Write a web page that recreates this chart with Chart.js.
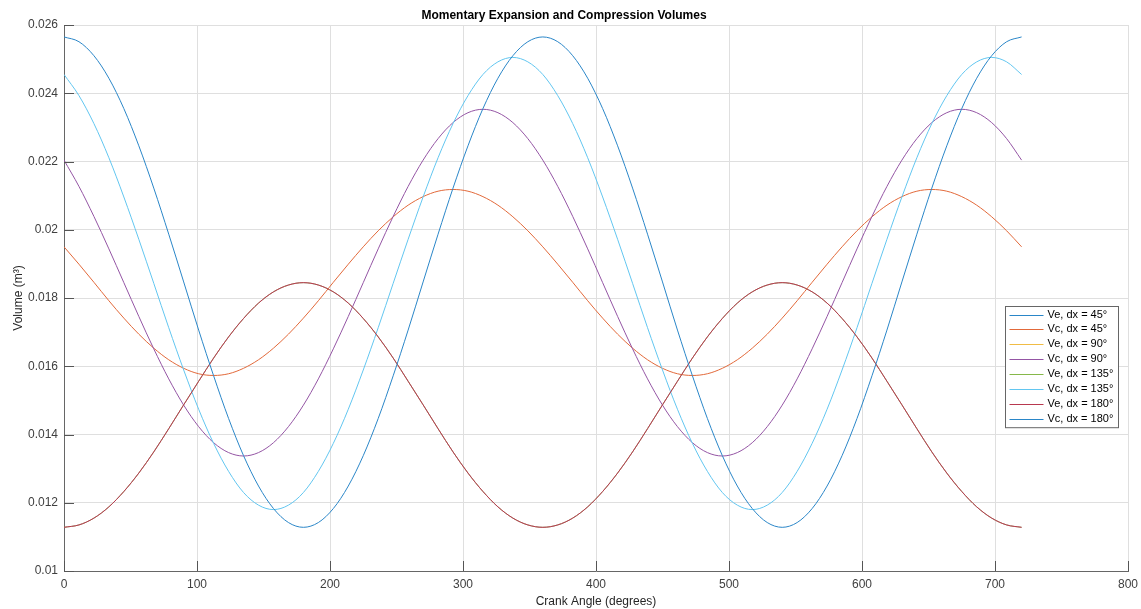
<!DOCTYPE html>
<html>
<head>
<meta charset="utf-8">
<title>Momentary Expansion and Compression Volumes</title>
<script src="https://cdn.jsdelivr.net/npm/chart.js@4"></script>
<style>
  html, body { margin: 0; padding: 0; background: #fff; }
  #wrap { width: 1141px; height: 609px; }
</style>
</head>
<body>
<div id="wrap"><canvas id="chart" width="1141" height="609"></canvas></div>
<script>
// Crank angle samples (degrees)
const crankAngles = [
  0, 11.25, 22.5, 33.75, 45, 56.25, 67.5, 78.75, 90, 101.25, 112.5, 123.75, 135, 146.25, 157.5, 168.75,
  180, 191.25, 202.5, 213.75, 225, 236.25, 247.5, 258.75, 270, 281.25, 292.5, 303.75, 315, 326.25, 337.5, 348.75,
  360, 371.25, 382.5, 393.75, 405, 416.25, 427.5, 438.75, 450, 461.25, 472.5, 483.75, 495, 506.25, 517.5, 528.75,
  540, 551.25, 562.5, 573.75, 585, 596.25, 607.5, 618.75, 630, 641.25, 652.5, 663.75, 675, 686.25, 697.5, 708.75,
  720
];

// Expansion volume, same curve for every dx (m^3)
const veVolume = [
  0.01128, 0.01135, 0.01155, 0.01188, 0.01233, 0.01287, 0.01349, 0.01417, 0.01487, 0.01556, 0.01624, 0.01686, 0.01740, 0.01785, 0.01818, 0.01838,
  0.01845, 0.01838, 0.01818, 0.01785, 0.01740, 0.01686, 0.01624, 0.01556, 0.01487, 0.01417, 0.01349, 0.01287, 0.01233, 0.01188, 0.01155, 0.01135,
  0.01128, 0.01135, 0.01155, 0.01188, 0.01233, 0.01287, 0.01349, 0.01417, 0.01487, 0.01556, 0.01624, 0.01686, 0.01740, 0.01785, 0.01818, 0.01838,
  0.01845, 0.01838, 0.01818, 0.01785, 0.01740, 0.01686, 0.01624, 0.01556, 0.01487, 0.01417, 0.01349, 0.01287, 0.01233, 0.01188, 0.01155, 0.01135,
  0.01128
];

// Compression volumes for each phase angle dx (m^3)
const vcDx45 = [
  0.01950, 0.01899, 0.01846, 0.01792, 0.01741, 0.01694, 0.01653, 0.01619, 0.01594, 0.01578, 0.01573, 0.01578, 0.01594, 0.01619, 0.01653, 0.01694,
  0.01741, 0.01792, 0.01846, 0.01899, 0.01950, 0.01997, 0.02038, 0.02072, 0.02097, 0.02113, 0.02118, 0.02113, 0.02097, 0.02072, 0.02038, 0.01997,
  0.01950, 0.01899, 0.01846, 0.01792, 0.01741, 0.01694, 0.01653, 0.01619, 0.01594, 0.01578, 0.01573, 0.01578, 0.01594, 0.01619, 0.01653, 0.01694,
  0.01741, 0.01792, 0.01846, 0.01899, 0.01950, 0.01997, 0.02038, 0.02072, 0.02097, 0.02113, 0.02118, 0.02113, 0.02097, 0.02072, 0.02038, 0.01997,
  0.01950
];
const vcDx90 = [
  0.02204, 0.02127, 0.02039, 0.01944, 0.01845, 0.01746, 0.01651, 0.01563, 0.01486, 0.01423, 0.01376, 0.01347, 0.01337, 0.01347, 0.01376, 0.01423,
  0.01486, 0.01563, 0.01651, 0.01746, 0.01845, 0.01944, 0.02039, 0.02127, 0.02204, 0.02267, 0.02314, 0.02343, 0.02353, 0.02343, 0.02314, 0.02267,
  0.02204, 0.02127, 0.02039, 0.01944, 0.01845, 0.01746, 0.01651, 0.01563, 0.01486, 0.01423, 0.01376, 0.01347, 0.01337, 0.01347, 0.01376, 0.01423,
  0.01486, 0.01563, 0.01651, 0.01746, 0.01845, 0.01944, 0.02039, 0.02127, 0.02204, 0.02267, 0.02314, 0.02343, 0.02353, 0.02343, 0.02314, 0.02267,
  0.02204
];
const vcDx135 = [
  0.02455, 0.02393, 0.02311, 0.02211, 0.02096, 0.01972, 0.01843, 0.01713, 0.01589, 0.01474, 0.01374, 0.01292, 0.01230, 0.01193, 0.01180, 0.01193,
  0.01230, 0.01292, 0.01374, 0.01474, 0.01589, 0.01713, 0.01843, 0.01972, 0.02096, 0.02211, 0.02311, 0.02393, 0.02455, 0.02492, 0.02505, 0.02492,
  0.02455, 0.02393, 0.02311, 0.02211, 0.02096, 0.01972, 0.01843, 0.01713, 0.01589, 0.01474, 0.01374, 0.01292, 0.01230, 0.01193, 0.01180, 0.01193,
  0.01230, 0.01292, 0.01374, 0.01474, 0.01589, 0.01713, 0.01843, 0.01972, 0.02096, 0.02211, 0.02311, 0.02393, 0.02455, 0.02492, 0.02505, 0.02492,
  0.02455
];
const vcDx180 = [
  0.02565, 0.02551, 0.02510, 0.02444, 0.02355, 0.02246, 0.02122, 0.01987, 0.01847, 0.01706, 0.01572, 0.01447, 0.01338, 0.01249, 0.01183, 0.01142,
  0.01128, 0.01142, 0.01183, 0.01249, 0.01338, 0.01447, 0.01572, 0.01706, 0.01847, 0.01987, 0.02122, 0.02246, 0.02355, 0.02444, 0.02510, 0.02551,
  0.02565, 0.02551, 0.02510, 0.02444, 0.02355, 0.02246, 0.02122, 0.01987, 0.01847, 0.01706, 0.01572, 0.01447, 0.01338, 0.01249, 0.01183, 0.01142,
  0.01128, 0.01142, 0.01183, 0.01249, 0.01338, 0.01447, 0.01572, 0.01706, 0.01847, 0.01987, 0.02122, 0.02246, 0.02355, 0.02444, 0.02510, 0.02551,
  0.02565
];

// Series labels, in plotting order
const seriesLabels = [
  'Ve, dx = 45°', 'Vc, dx = 45°', 'Ve, dx = 90°', 'Vc, dx = 90°',
  'Ve, dx = 135°', 'Vc, dx = 135°', 'Ve, dx = 180°', 'Vc, dx = 180°'
];
const seriesValues = [veVolume, vcDx45, veVolume, vcDx90, veVolume, vcDx135, veVolume, vcDx180];
const seriesColors = ['#2a86c8', '#e2693a', '#f0bc45', '#9455a4', '#86b84a', '#62c6f0', '#b8384f', '#2a86c8'];
// the first three Ve curves sit under the last one, keep them thin
const seriesWidths = [0.4, 1, 0.4, 1, 0.4, 1, 1, 1];

Chart.defaults.font.family = '"Liberation Sans", Arial, Helvetica, sans-serif';
Chart.defaults.font.size = 12;
Chart.defaults.color = '#404040';

// Tick marks pointing into the plot, like MATLAB
const inwardTicks = {
  id: 'inwardTicks',
  afterDatasetsDraw(chart) {
    const { ctx, chartArea, scales } = chart;
    ctx.save();
    ctx.strokeStyle = '#555';
    ctx.lineWidth = 1;
    ctx.beginPath();
    scales.x.ticks.forEach(t => {
      const px = Math.round(scales.x.getPixelForValue(t.value)) + 0.5;
      ctx.moveTo(px, chartArea.bottom);
      ctx.lineTo(px, chartArea.bottom - 10);
    });
    scales.y.ticks.forEach(t => {
      const py = Math.round(scales.y.getPixelForValue(t.value)) + 0.5;
      ctx.moveTo(chartArea.left, py);
      ctx.lineTo(chartArea.left + 10, py);
    });
    ctx.stroke();
    ctx.restore();
  }
};

// Boxed legend inside the plot area
const boxLegend = {
  id: 'boxLegend',
  afterDraw(chart) {
    const { ctx, chartArea } = chart;
    const sets = chart.data.datasets;
    const w = 113, rowH = 14.9;
    const h = rowH * sets.length + 2;
    const x0 = Math.round(chartArea.right - 10 - w) + 0.5;
    const y0 = Math.round(chartArea.top + 281) + 0.5;
    ctx.save();
    ctx.fillStyle = '#fff';
    ctx.fillRect(x0, y0, w, h);
    ctx.strokeStyle = '#666';
    ctx.lineWidth = 1;
    ctx.strokeRect(x0, y0, w, h);
    ctx.font = '11px "Liberation Sans", Arial, sans-serif';
    ctx.textBaseline = 'middle';
    ctx.textAlign = 'left';
    sets.forEach((ds, i) => {
      const cy = y0 + 8 + i * rowH;
      ctx.strokeStyle = ds.borderColor;
      ctx.lineWidth = 1;
      ctx.beginPath();
      ctx.moveTo(x0 + 4, Math.round(cy) + 0.5);
      ctx.lineTo(x0 + 38, Math.round(cy) + 0.5);
      ctx.stroke();
      ctx.fillStyle = '#000';
      ctx.fillText(ds.label, x0 + 42, cy);
    });
    ctx.restore();
  }
};

const datasets = seriesLabels.map((label, i) => ({
  label: label,
  data: crankAngles.map((a, j) => ({ x: a, y: seriesValues[i][j] })),
  borderColor: seriesColors[i],
  borderWidth: seriesWidths[i],
  pointRadius: 0,
  fill: false,
  cubicInterpolationMode: 'monotone',
  order: seriesLabels.length - 1 - i   // later series drawn on top
}));

new Chart(document.getElementById('chart'), {
  type: 'line',
  data: { datasets: datasets },
  options: {
    responsive: false,
    animation: false,
    devicePixelRatio: 1,
    layout: { padding: { left: 0, right: 13, top: 0, bottom: 0 } },
    plugins: {
      legend: { display: false },
      tooltip: { enabled: false },
      title: {
        display: true,
        text: 'Momentary Expansion and Compression Volumes',
        color: '#000',
        font: { size: 12, weight: 'bold' },
        padding: { top: 8, bottom: 2.6 }
      }
    },
    scales: {
      x: {
        type: 'linear',
        min: 0,
        max: 800,
        ticks: { stepSize: 100, padding: 6, color: '#404040', maxRotation: 0 },
        grid: { color: '#dfdfdf', drawTicks: false },
        border: { display: true, color: '#666' },
        title: { display: true, text: 'Crank Angle (degrees)', color: '#262626', padding: { top: 1, bottom: 0 } },
        afterFit(scale) {
          scale.height = 38;
          scale.paddingLeft = 0;
          scale.paddingRight = 13;
        }
      },
      y: {
        type: 'linear',
        min: 0.01,
        max: 0.026,
        ticks: {
          stepSize: 0.002,
          padding: 6,
          color: '#404040',
          callback: v => parseFloat(v.toFixed(4)).toString()
        },
        grid: { color: '#dfdfdf', drawTicks: false },
        border: { display: true, color: '#666' },
        title: { display: true, text: 'Volume (m³)', color: '#262626', padding: { top: 11, bottom: 0 } },
        afterFit(scale) { scale.width = 64; }
      }
    }
  },
  plugins: [inwardTicks, boxLegend]
});
</script>
</body>
</html>
